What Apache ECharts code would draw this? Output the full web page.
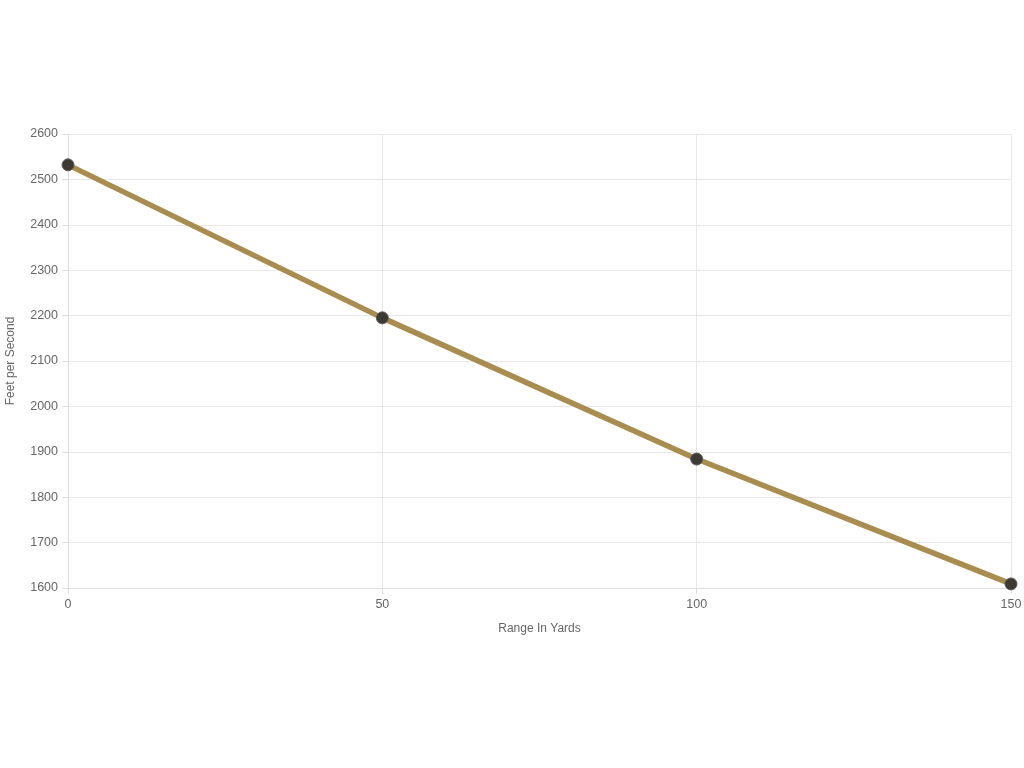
<!DOCTYPE html>
<html>
<head>
<meta charset="utf-8">
<script src="https://cdn.jsdelivr.net/npm/echarts@6/dist/echarts.min.js"></script>
<style>html,body{margin:0;padding:0;background:#fff;}#c{width:1024px;height:768px;}</style>
</head>
<body>
<div id="c"></div>
<script>
var ranges = [0, 50, 100, 150];
var velocities = [2532, 2195, 1884, 1609];
var xTicks = [0, 50, 100, 150];

var font = 'Arial, "Liberation Sans", sans-serif';
var chart = echarts.init(document.getElementById('c'));
chart.setOption({
  animation: false,
  grid: { left: 68, right: 13, top: 134, bottom: 180, containLabel: false, outerBoundsMode: 'none' },
  xAxis: {
    type: 'value', min: 0, max: 150, interval: 50,
    name: 'Range In Yards', nameLocation: 'middle', nameGap: 35,
    nameTextStyle: { color: '#666', fontSize: 12, fontFamily: font },
    axisLine: { show: true, lineStyle: { color: '#ddd' } },
    axisTick: { show: true, length: 6, lineStyle: { color: '#ddd' } },
    axisLabel: { color: '#666', fontSize: 12.5, margin: 10, fontFamily: font,
      formatter: function (v) { return String(v); } },
    splitLine: { show: true, lineStyle: { color: '#e8e8e8' } }
  },
  yAxis: {
    type: 'value', min: 1600, max: 2600, interval: 100,
    name: 'Feet per Second', nameLocation: 'middle', nameGap: 51, nameRotate: 90,
    nameTextStyle: { color: '#666', fontSize: 12, fontFamily: font },
    axisLine: { show: true, lineStyle: { color: '#ddd' } },
    axisTick: { show: true, length: 6, lineStyle: { color: '#ddd' } },
    axisLabel: { color: '#666', fontSize: 12.5, margin: 10, fontFamily: font,
      formatter: function (v) { return String(v); } },
    splitLine: { show: true, lineStyle: { color: '#e8e8e8' } }
  },
  series: [{
    type: 'line',
    data: ranges.map(function (r, i) { return [r, velocities[i]]; }),
    lineStyle: { color: '#A88C50', width: 5.5 },
    itemStyle: { color: '#3d3a36', borderColor: '#5a5a5a', borderWidth: 1 },
    symbol: 'circle', symbolSize: 12,
    showSymbol: true
  }]
});
</script>
</body>
</html>
